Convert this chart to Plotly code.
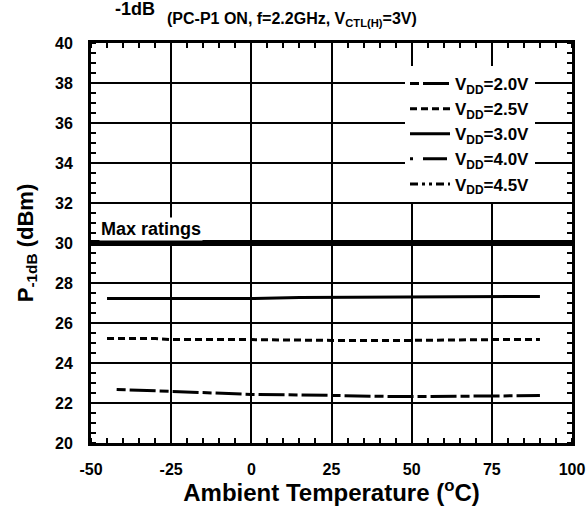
import plotly.graph_objects as go

# Data
temp_20 = [-42, -25, -10, 0, 25, 45, 75, 90]
p1db_20 = [22.68, 22.57, 22.47, 22.43, 22.38, 22.32, 22.35, 22.37]

temp_25 = [-45, -30, -25, 0, 25, 50, 75, 90]
p1db_25 = [25.22, 25.22, 25.17, 25.17, 25.13, 25.13, 25.17, 25.17]

temp_30 = [-45, -25, 0, 15, 25, 50, 55, 75, 90]
p1db_30 = [27.22, 27.22, 27.22, 27.27, 27.28, 27.28, 27.32, 27.33, 27.33]

legend_names = ["V<sub>DD</sub>=2.0V", "V<sub>DD</sub>=2.5V", "V<sub>DD</sub>=3.0V",
                "V<sub>DD</sub>=4.0V", "V<sub>DD</sub>=4.5V"]
max_rating = 30

x_ticks = [-50, -25, 0, 25, 50, 75, 100]
x_ticktext = ["-50", "-25", "0", "25", "50", "75", "100"]
y_ticks = [20, 22, 24, 26, 28, 30, 32, 34, 36, 38, 40]

FONT = "Liberation Sans, Arial, sans-serif"

fig = go.Figure()
dashes = ["9px,4px,26px,4px", "7px,4px", "solid", "3px,10px,24px,10px", "8px,4px,3px,4px,3px,4px"]
series = [(temp_20, p1db_20), (temp_25, p1db_25), (temp_30, p1db_30), ([None], [None]), ([None], [None])]
for (xs, ys), name, dash in zip(series, legend_names, dashes):
    fig.add_trace(go.Scatter(x=xs, y=ys, mode="lines", name=name,
                             line=dict(color="black", width=3, dash=dash)))

fig.add_shape(type="line", xref="paper", x0=0, x1=1, yref="y", y0=max_rating, y1=max_rating,
              line=dict(color="black", width=6), layer="above")

fig.add_annotation(x=-47.5, y=max_rating, xref="x", yref="y", text="<b>Max ratings</b>",
                   showarrow=False, xanchor="left", yanchor="bottom", yshift=2,
                   bgcolor="white", borderpad=1,
                   font=dict(family=FONT, size=18, color="black"))

# Title fragments visible at the top of the reference
fig.add_annotation(xref="paper", yref="paper", x=(135 - 91) / 481, y=1 + (43 - 9) / 400,
                   xanchor="center", yanchor="middle",
                   text="<b>-1dB</b>", showarrow=False,
                   font=dict(family=FONT, size=18, color="black"))
fig.add_annotation(xref="paper", yref="paper", x=(292 - 91) / 481, y=1 + (43 - 20) / 400,
                   xanchor="center", yanchor="middle",
                   text="<b>(PC-P1 ON, f=2.2GHz, V<sub>CTL(H)</sub>=3V)</b>", showarrow=False,
                   font=dict(family=FONT, size=16, color="black"))

axis_common = dict(
    showline=True, linecolor="black", linewidth=3, mirror="allticks",
    showgrid=True, gridcolor="black", gridwidth=2, zeroline=False, automargin=False,
    ticks="", tickfont=dict(family=FONT, size=16, color="black", weight="bold"),
)

fig.update_xaxes(range=[-50, 100], tickvals=x_ticks, ticktext=x_ticktext, ticklabelstandoff=10,
                 minor=dict(dtick=5, ticks="inside", ticklen=5, tickwidth=2, tickcolor="black", showgrid=False),
                 title=dict(text="<b>Ambient Temperature (<sup>o</sup>C)</b>", standoff=4,
                            font=dict(family=FONT, size=24, color="black")),
                 **axis_common)
fig.update_yaxes(range=[20, 40], tickvals=y_ticks, ticklabelstandoff=12,
                 minor=dict(dtick=0.5, ticks="inside", ticklen=5, tickwidth=2, tickcolor="black", showgrid=False),
                 title=dict(text="<b>P<sub>-1dB</sub> (dBm)</b>", standoff=16,
                            font=dict(family=FONT, size=22, color="black")),
                 **axis_common)

fig.update_layout(
    width=587, height=506,
    margin=dict(l=91, r=15, t=43, b=63),
    plot_bgcolor="white", paper_bgcolor="white",
    font=dict(family=FONT, color="black"),
    showlegend=True,
    legend=dict(x=(405 - 91) / 481, y=(443 - 66) / 400, xanchor="left", yanchor="top", bgcolor="white",
                borderwidth=0, itemwidth=40, tracegroupgap=0,
                font=dict(family=FONT, size=17, color="black", weight="bold")),
)

fig.write_html("out.html", config={"displayModeBar": False},
               post_script="document.body.style.margin='0';document.body.style.overflow='hidden';")
